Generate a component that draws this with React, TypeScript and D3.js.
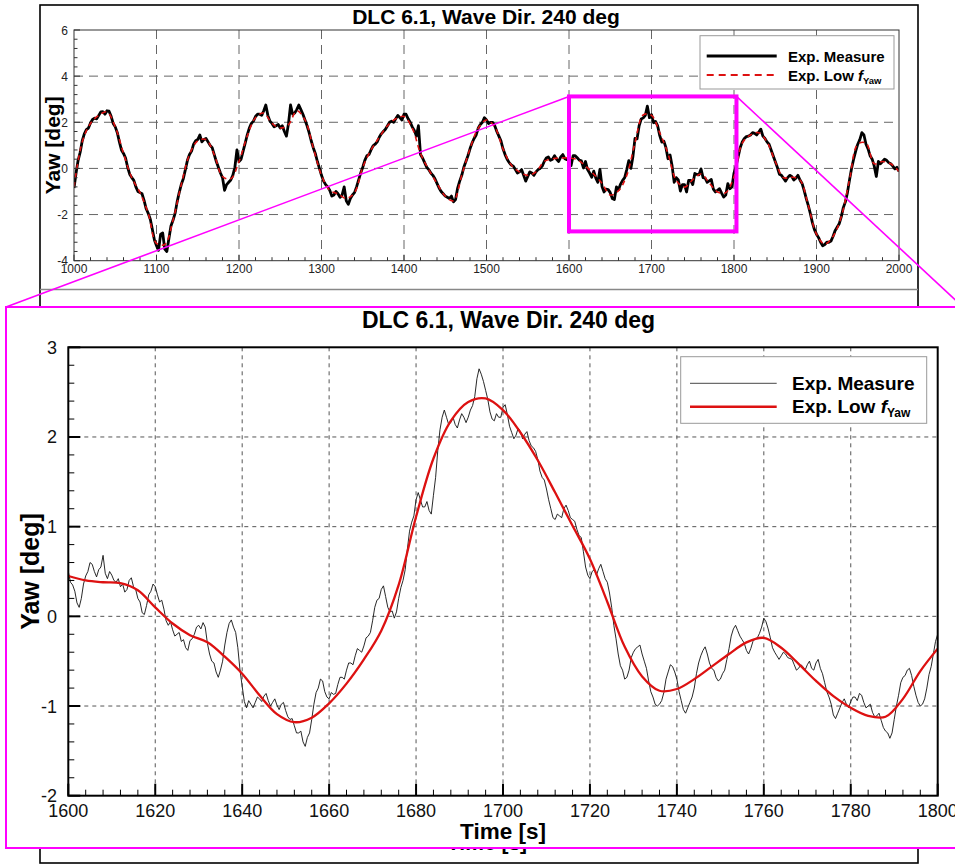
import React from 'react';
import * as d3 from 'd3';

const TITLE = 'DLC 6.1, Wave Dir. 240 deg';
const X_LABEL = 'Time [s]';
const Y_LABEL = 'Yaw [deg]';
const LEGEND_MEASURE = 'Exp. Measure';
const LEGEND_LOW = 'Exp. Low ';

// Top panel: measure every 5 s from 1000 s
const topMeasureStart = 1000;
const topMeasureStep = 5;
const topMeasure = [
  -0.85, 0.35, 1.20, 1.68, 1.97, 2.18, 2.30, 2.46, 2.50, 2.26,
  1.80, 1.15, 0.65, 0.05, -0.40, -0.80, -1.05, -1.40, -1.95, -2.65,
  -3.35, -2.85, -3.50, -3.05, -2.25, -1.45, -0.70, -0.05, 0.60, 1.05,
  1.25, 1.15, 1.30, 1.00, 0.60, 0.05, -0.40, -0.70, -0.50, 0.05,
  0.30, 0.75, 1.45, 1.95, 2.25, 2.35, 2.50, 2.30, 1.95, 1.85,
  1.75, 1.60, 1.95, 2.35, 2.55, 2.55, 2.10, 1.55, 0.90, 0.30,
  -0.30, -0.70, -0.95, -1.15, -1.10, -1.15, -1.40, -1.30, -1.05, -0.50,
  0.05, 0.55, 0.80, 1.05, 1.35, 1.60, 1.85, 2.05, 2.15, 2.20,
  2.35, 2.15, 1.80, 1.40, 0.60, 0.25, -0.05, -0.30, -0.65, -1.00,
  -1.20, -1.30, -1.45, -0.85, -0.30, 0.30, 0.85, 1.30, 1.75, 2.00,
  2.10, 2.00, 1.85, 1.40, 0.85, 0.40, 0.15, -0.05, -0.15, -0.30,
  -0.35, -0.20, -0.15, 0.00, 0.30, 0.50, 0.40, 0.40, 0.50, 0.42,
  0.50, 0.55, 0.46, 0.33, 0.30, -0.20, -0.12, -0.60, -0.78, -0.90,
  -1.05, -1.35, -0.92, -0.52, -0.05, 0.00, 1.30, 1.85, 2.19, 2.70,
  2.33, 2.03, 1.42, 1.18, 0.42, 0.10, -0.40, -0.98, -0.70, -0.52,
  -0.70, -0.26, -0.02, -0.42, -0.54, -0.90, -0.95, -1.07, -1.15, -0.88,
  -0.20, 0.50, 1.15, 1.38, 1.45, 1.52, 1.58, 1.40, 1.15, 0.80,
  0.30, -0.25, -0.42, -0.40, -0.35, -0.42, -0.50, -0.95, -1.60, -2.35,
  -2.85, -3.20, -3.30, -3.20, -2.95, -2.55, -2.10, -1.45, -0.50, 0.40,
  1.05, 1.55, 1.05, 0.55, 0.10, 0.30, 0.30, 0.35, 0.20, -0.02,
  -0.13,
];
// Top panel: measure at the mid points (1002.5 s, 1007.5 s, ...)
const topMeasureMid = [
  -0.20, 0.70, 1.50, 1.75, 2.12, 2.15, 2.45, 2.35, 2.48, 1.95,
  1.55, 0.80, 0.45, -0.25, -0.52, -1.00, -1.10, -1.75, -2.20, -3.10,
  -3.55, -2.80, -3.60, -2.50, -1.95, -1.05, -0.45, 0.35, 0.75, 1.20,
  1.45, 1.25, 1.15, 0.90, 0.30, -0.20, -0.95, -0.60, -0.30, 0.80,
  0.40, 1.10, 1.75, 2.05, 2.35, 2.30, 2.75, 2.05, 1.80, 1.90,
  1.85, 1.40, 2.75, 2.40, 2.75, 2.35, 1.85, 1.20, 0.65, 0.00,
  -0.55, -0.80, -1.20, -1.00, -1.25, -0.80, -1.55, -1.15, -0.80, -0.20,
  0.35, 0.60, 0.98, 1.15, 1.50, 1.70, 2.00, 2.00, 2.30, 2.10,
  2.35, 2.00, 1.65, 1.85, 0.45, 0.05, -0.20, -0.45, -0.85, -1.10,
  -1.25, -1.20, -1.35, -0.55, 0.05, 0.55, 1.10, 1.45, 1.90, 2.20,
  1.95, 2.00, 1.60, 1.20, 0.60, 0.25, 0.10, -0.20, -0.05, -0.55,
  -0.15, -0.30, -0.05, 0.10, 0.45, 0.35, 0.55, 0.30, 0.60, 0.38,
  0.12, 0.55, 0.36, 0.02, -0.05, -0.38, -0.42, -0.04, -1.02, -0.92,
  -1.30, -0.80, -0.68, -0.40, 0.34, 0.52, 1.28, 2.14, 2.30, 2.20,
  1.98, 1.84, 1.14, 0.90, 0.58, -0.60, -0.50, -0.70, -1.02, -0.52,
  -0.22, -0.28, -0.40, -0.60, -0.48, -1.02, -0.88, -1.24, -0.66, -0.80,
  0.10, 0.90, 1.30, 1.40, 1.55, 1.45, 1.70, 1.30, 1.05, 0.55,
  0.05, -0.30, -0.55, -0.30, -0.50, -0.30, -0.65, -1.30, -1.95, -2.65,
  -3.00, -3.35, -3.20, -3.15, -2.70, -2.40, -1.70, -1.05, 0.00, 0.75,
  1.25, 1.45, 0.85, 0.40, -0.35, 0.20, 0.40, 0.25, 0.10, 0.05,
];

// Top panel: low-frequency yaw every 10 s from 1000 s
const topLowStart = 1000;
const topLowStep = 10;
const topLow = [
  -0.80, 1.15, 1.95, 2.30, 2.45, 1.80, 0.65, -0.40, -1.05, -1.95,
  -3.25, -3.30, -2.25, -0.70, 0.60, 1.20, 1.25, 0.60, -0.35, -0.45,
  0.30, 1.40, 2.20, 2.40, 1.95, 1.75, 1.90, 2.50, 2.10, 0.90,
  -0.30, -0.95, -1.10, -1.30, -1.05, 0.05, 0.80, 1.35, 1.85, 2.15,
  2.25, 1.75, 0.65, -0.05, -0.65, -1.20, -1.40, -0.30, 0.85, 1.75,
  2.10, 1.80, 0.85, 0.15, -0.15, -0.30, -0.15, 0.30, 0.42, 0.45,
  0.45, 0.38, 0.10, -0.25, -0.64, -1.15, -0.97, -0.30, 1.11, 2.32,
  2.30, 1.55, 0.64, -0.52, -0.81, -0.49, -0.24, -0.63, -1.02, -1.05,
  -0.36, 1.10, 1.45, 1.55, 1.15, 0.30, -0.40, -0.38, -0.50, -1.60,
  -2.85, -3.28, -2.95, -2.10, -0.50, 1.05, 1.10, 0.20, 0.30, 0.20,
  -0.13,
];

// Zoomed panel: measure every 1 s from 1600 s
const zoomMeasureStart = 1600;
const zoomMeasureStep = 1;
const zoomMeasure = [
  0.50, 0.35, 0.15, 0.20, 0.45, 0.60, 0.50, 0.52, 0.68, 0.42,
  0.46, 0.38, 0.33, 0.27, 0.40, 0.33, 0.20, 0.04, 0.12, 0.28,
  0.33, 0.16, 0.08, -0.10, -0.15, -0.20, -0.28, -0.35, -0.27, -0.20,
  -0.10, -0.07, -0.30, -0.50, -0.62, -0.60, -0.32, -0.08, -0.12, -0.35,
  -0.78, -1.02, -0.98, -0.96, -0.92, -0.89, -0.94, -0.96, -0.99, -0.98,
  -1.05, -1.15, -1.22, -1.30, -1.40, -1.35, -1.15, -0.85, -0.70, -0.84,
  -0.92, -0.87, -0.76, -0.68, -0.60, -0.52, -0.44, -0.38, -0.33, -0.22,
  -0.05, 0.18, 0.30, 0.22, 0.05, -0.02, 0.20, 0.40, 0.75, 1.05,
  1.30, 1.30, 1.22, 1.18, 1.35, 1.85, 2.22, 2.22, 2.16, 2.14,
  2.19, 2.22, 2.22, 2.35, 2.65, 2.70, 2.52, 2.28, 2.18, 2.22,
  2.33, 2.25, 2.05, 2.02, 2.06, 2.03, 1.96, 1.88, 1.75, 1.55,
  1.42, 1.20, 1.08, 1.12, 1.20, 1.18, 1.08, 0.97, 0.88, 0.55,
  0.42, 0.52, 0.53, 0.50, 0.38, 0.10, -0.25, -0.55, -0.70, -0.60,
  -0.40, -0.34, -0.42, -0.58, -0.84, -0.98, -0.98, -0.85, -0.62, -0.56,
  -0.70, -0.94, -1.08, -0.96, -0.80, -0.52, -0.38, -0.42, -0.58, -0.68,
  -0.70, -0.60, -0.36, -0.14, -0.16, -0.26, -0.38, -0.36, -0.25, -0.19,
  -0.02, -0.14, -0.35, -0.44, -0.44, -0.42, -0.47, -0.54, -0.58, -0.56,
  -0.54, -0.58, -0.52, -0.58, -0.74, -0.90, -1.10, -1.08, -0.96, -0.98,
  -0.95, -0.90, -0.86, -0.96, -1.00, -1.07, -1.11, -1.16, -1.28, -1.36,
  -1.15, -0.88, -0.68, -0.60, -0.66, -0.88, -1.00, -0.92, -0.65, -0.42,
  -0.20,
];
// Zoomed panel: measure at the half seconds (1600.5 s, 1601.5 s, ...)
const zoomMeasureMid = [
  0.38, 0.28, 0.10, 0.36, 0.50, 0.58, 0.44, 0.55, 0.48, 0.50,
  0.40, 0.42, 0.36, 0.30, 0.43, 0.30, 0.16, 0.02, 0.24, 0.36,
  0.24, 0.18, -0.05, -0.06, -0.22, -0.18, -0.26, -0.38, -0.25, -0.12,
  -0.14, -0.12, -0.42, -0.52, -0.68, -0.50, -0.18, -0.04, -0.18, -0.60,
  -0.95, -0.94, -1.02, -0.90, -0.95, -0.86, -1.00, -0.92, -1.04, -0.96,
  -1.12, -1.14, -1.30, -1.28, -1.45, -1.30, -0.98, -0.80, -0.72, -0.90,
  -0.85, -0.86, -0.68, -0.70, -0.52, -0.54, -0.36, -0.40, -0.24, -0.18,
  0.10, 0.20, 0.34, 0.10, 0.06, 0.05, 0.32, 0.52, 0.95, 1.12,
  1.38, 1.22, 1.28, 1.14, 1.55, 2.08, 2.30, 2.14, 2.22, 2.10,
  2.26, 2.16, 2.30, 2.45, 2.76, 2.62, 2.42, 2.20, 2.26, 2.22,
  2.36, 2.12, 1.98, 2.10, 1.98, 2.06, 1.90, 1.84, 1.62, 1.52,
  1.30, 1.10, 1.14, 1.10, 1.24, 1.10, 1.06, 0.90, 0.72, 0.46,
  0.50, 0.46, 0.58, 0.42, 0.26, -0.10, -0.42, -0.60, -0.68, -0.46,
  -0.36, -0.32, -0.50, -0.72, -0.90, -1.00, -0.94, -0.70, -0.54, -0.62,
  -0.84, -1.04, -1.02, -0.90, -0.64, -0.44, -0.34, -0.52, -0.60, -0.72,
  -0.64, -0.48, -0.22, -0.10, -0.22, -0.30, -0.42, -0.28, -0.24, -0.12,
  -0.06, -0.24, -0.40, -0.48, -0.40, -0.46, -0.48, -0.60, -0.54, -0.60,
  -0.50, -0.60, -0.48, -0.64, -0.84, -0.98, -1.14, -1.02, -0.92, -1.02,
  -0.90, -0.94, -0.88, -1.02, -0.98, -1.12, -1.08, -1.24, -1.30, -1.30,
  -1.00, -0.74, -0.66, -0.58, -0.78, -0.96, -0.98, -0.80, -0.56, -0.28,
];

// Zoomed panel: low-frequency yaw every 4 s from 1600 s
const zoomLowStart = 1600;
const zoomLowStep = 4;
const zoomLow = [
  0.45, 0.40, 0.38, 0.37, 0.29, 0.10, -0.08, -0.21, -0.29, -0.45,
  -0.64, -0.88, -1.09, -1.18, -1.13, -0.97, -0.75, -0.48, -0.16, 0.35,
  1.11, 1.76, 2.18, 2.39, 2.43, 2.30, 2.05, 1.74, 1.38, 1.01,
  0.64, 0.16, -0.34, -0.67, -0.83, -0.81, -0.70, -0.56, -0.42, -0.29,
  -0.24, -0.35, -0.53, -0.72, -0.89, -1.02, -1.11, -1.12, -0.92, -0.61,
  -0.36,
];

const topXTicks = [1000, 1100, 1200, 1300, 1400, 1500, 1600, 1700, 1800, 1900, 2000];
const topYTicks = [-4, -2, 0, 2, 4, 6];
const zoomXTicks = [1600, 1620, 1640, 1660, 1680, 1700, 1720, 1740, 1760, 1780, 1800];
const zoomYTicks = [-2, -1, 0, 1, 2, 3];
const zoomWindowX = [1600, 1803];
const zoomWindowY = [-2.73, 3.12];

const FONT = '"Liberation Sans", Arial, Helvetica, sans-serif';
const RED = '#dd1111';
const MAGENTA = '#ff00ff';

const toPts = (arr: number[], start: number, step: number) =>
  arr.map((v, i) => [start + i * step, v] as [number, number]);

const withMid = (full: number[], mid: number[], start: number, step: number) => {
  const pts: [number, number][] = [];
  full.forEach((v, i) => {
    pts.push([start + i * step, v]);
    if (i < mid.length) pts.push([start + (i + 0.5) * step, mid[i]]);
  });
  return pts;
};

export default function App() {
  const tx = d3.scaleLinear().domain([1000, 2000]).range([74, 899]);
  const ty = d3.scaleLinear().domain([-4, 6]).range([260.7, 30]);
  const zx = d3.scaleLinear().domain([1600, 1800]).range([68.3, 937.7]);
  const zy = d3.scaleLinear().domain([-2, 3]).range([795.7, 347.3]);

  const tLine = d3.line<[number, number]>().x((d) => tx(d[0])).y((d) => ty(d[1]));
  const tLowLine = d3
    .line<[number, number]>()
    .x((d) => tx(d[0]))
    .y((d) => ty(d[1]))
    .curve(d3.curveCatmullRom);
  const zLine = d3.line<[number, number]>().x((d) => zx(d[0])).y((d) => zy(d[1]));
  const zLowLine = d3
    .line<[number, number]>()
    .x((d) => zx(d[0]))
    .y((d) => zy(d[1]))
    .curve(d3.curveCatmullRom);

  const topMinorX = d3.range(1000, 2000.01, 20);
  const topMinorY = d3.range(-4, 6.01, 0.4);
  const zoomMinorX = d3.range(1600, 1800.01, 4);
  const zoomMinorY = d3.range(-2, 3.001, 0.2);

  const [tx0, tx1] = tx.range();
  const [ty0, ty1] = ty.range();
  const [zx0, zx1] = zx.range();
  const [zy0, zy1] = zy.range();

  const boxL = tx(zoomWindowX[0]);
  const boxR = tx(zoomWindowX[1]);
  const boxT = ty(zoomWindowY[1]);
  const boxB = ty(zoomWindowY[0]);

  const insetL = 6;
  const insetT = 307;
  const insetR = 963;
  const insetB = 848;

  return (
    <svg
      width={955}
      height={864}
      style={{ position: 'absolute', left: 0, top: 0, background: '#fff' }}
      fontFamily={FONT}
    >
      <defs>
        <clipPath id="topClip">
          <rect x={tx0} y={ty1} width={tx1 - tx0} height={ty0 - ty1} />
        </clipPath>
        <clipPath id="zoomClip">
          <rect x={zx0} y={zy1} width={zx1 - zx0} height={zy0 - zy1} />
        </clipPath>
      </defs>
      <rect width={955} height={864} fill="#fff" />

      {/* ===== Top figure ===== */}
      <rect x={40} y={5} width={878} height={858} fill="none" stroke="#000" strokeWidth={1.6} />
      <text x={486} y={24} textAnchor="middle" fontWeight="bold" fontSize={21}>
        {TITLE}
      </text>

      {topXTicks.slice(1, -1).map((t) => (
        <line key={'tgx' + t} x1={tx(t)} x2={tx(t)} y1={ty1} y2={ty0} stroke="#666" strokeWidth={1} strokeDasharray="9,6" />
      ))}
      {topYTicks.slice(1, -1).map((v) => (
        <line key={'tgy' + v} x1={tx0} x2={tx1} y1={ty(v)} y2={ty(v)} stroke="#666" strokeWidth={1} strokeDasharray="9,6" />
      ))}

      <g clipPath="url(#topClip)">
        <path
          d={tLine(withMid(topMeasure, topMeasureMid, topMeasureStart, topMeasureStep)) || ''}
          fill="none"
          stroke="#000"
          strokeWidth={2.8}
          strokeLinejoin="round"
        />
        <path
          d={tLowLine(toPts(topLow, topLowStart, topLowStep)) || ''}
          fill="none"
          stroke={RED}
          strokeWidth={1.6}
          strokeDasharray="5,4"
        />
      </g>

      <rect x={tx0} y={ty1} width={tx1 - tx0} height={ty0 - ty1} fill="none" stroke="#333" strokeWidth={1} />
      {topMinorX.map((t) => (
        <line key={'tmx' + t} x1={tx(t)} x2={tx(t)} y1={ty0} y2={ty0 - (t % 100 === 0 ? 6 : 3.5)} stroke="#333" strokeWidth={1} />
      ))}
      {topMinorY.map((v) => (
        <line
          key={'tmy' + v}
          x1={tx0}
          x2={tx0 + (Math.abs(v / 2 - Math.round(v / 2)) < 1e-6 ? 6 : 3.5)}
          y1={ty(v)}
          y2={ty(v)}
          stroke="#333"
          strokeWidth={1}
        />
      ))}
      {topXTicks.map((t) => (
        <text key={'txl' + t} x={tx(t)} y={273} textAnchor="middle" fontSize={12} fill="#222">
          {t}
        </text>
      ))}
      {topYTicks.map((v) => (
        <text key={'tyl' + v} x={68} y={ty(v) + 4.5} textAnchor="end" fontSize={12} fill="#222">
          {v}
        </text>
      ))}
      <text
        transform={`translate(60,${(ty0 + ty1) / 2}) rotate(-90)`}
        textAnchor="middle"
        fontWeight="bold"
        fontSize={21}
      >
        {Y_LABEL}
      </text>

      <rect x={700} y={35.7} width={194} height={53.3} fill="#fff" stroke="#999" strokeWidth={1} />
      <line x1={706.7} x2={776.7} y1={56} y2={56} stroke="#000" strokeWidth={3} />
      <line x1={706.7} x2={776.7} y1={75} y2={75} stroke={RED} strokeWidth={2} strokeDasharray="7,5" />
      <text x={788} y={61.5} fontWeight="bold" fontSize={15}>
        {LEGEND_MEASURE}
      </text>
      <text x={788} y={80.5} fontWeight="bold" fontSize={15}>
        {LEGEND_LOW}
        <tspan fontStyle="italic">f</tspan>
        <tspan fontSize={9.5} dy={3}>Yaw</tspan>
      </text>

      <line x1={40} x2={918} y1={289.5} y2={289.5} stroke="#888" strokeWidth={1.5} />
      <text x={487} y={849.5} textAnchor="middle" fontWeight="bold" fontSize={21}>
        {X_LABEL}
      </text>

      <rect x={boxL} y={boxT} width={boxR - boxL} height={boxB - boxT} fill="none" stroke={MAGENTA} strokeWidth={4} />
      <line x1={boxL} y1={boxT} x2={insetL} y2={insetT} stroke={MAGENTA} strokeWidth={1.6} />
      <line x1={boxR} y1={boxT} x2={insetR} y2={insetT} stroke={MAGENTA} strokeWidth={1.6} />

      {/* ===== Inset ===== */}
      <rect x={insetL} y={insetT} width={insetR - insetL} height={insetB - insetT} fill="#fff" stroke={MAGENTA} strokeWidth={2} />
      <text x={508.5} y={328.3} textAnchor="middle" fontWeight="bold" fontSize={23}>
        {TITLE}
      </text>

      {zoomXTicks.slice(1, -1).map((t) => (
        <line key={'zgx' + t} x1={zx(t)} x2={zx(t)} y1={zy1} y2={zy0} stroke="#555" strokeWidth={1} strokeDasharray="4,4" />
      ))}
      {zoomYTicks.slice(1, -1).map((v) => (
        <line key={'zgy' + v} x1={zx0} x2={zx1} y1={zy(v)} y2={zy(v)} stroke="#555" strokeWidth={1} strokeDasharray="4,4" />
      ))}

      <g clipPath="url(#zoomClip)">
        <path
          d={zLine(withMid(zoomMeasure, zoomMeasureMid, zoomMeasureStart, zoomMeasureStep)) || ''}
          fill="none"
          stroke="#111"
          strokeWidth={0.9}
        />
        <path
          d={zLowLine(toPts(zoomLow, zoomLowStart, zoomLowStep)) || ''}
          fill="none"
          stroke={RED}
          strokeWidth={2.3}
        />
      </g>

      <rect x={zx0} y={zy1} width={zx1 - zx0} height={zy0 - zy1} fill="none" stroke="#000" strokeWidth={2} />
      {zoomMinorX.map((t) => (
        <line
          key={'zmx' + t}
          x1={zx(t)}
          x2={zx(t)}
          y1={zy0}
          y2={zy0 - (t % 20 === 0 ? 12 : 6)}
          stroke="#000"
          strokeWidth={t % 20 === 0 ? 2 : 1}
        />
      ))}
      {zoomMinorY.map((v) => {
        const major = Math.abs(v - Math.round(v)) < 1e-6;
        return (
          <line
            key={'zmy' + v}
            x1={zx0}
            x2={zx0 + (major ? 12 : 6)}
            y1={zy(v)}
            y2={zy(v)}
            stroke="#000"
            strokeWidth={major ? 2 : 1}
          />
        );
      })}
      {zoomXTicks.map((t) => (
        <text key={'zxl' + t} x={zx(t)} y={817} textAnchor="middle" fontSize={18} fill="#111">
          {t}
        </text>
      ))}
      {zoomYTicks.map((v) => (
        <text key={'zyl' + v} x={57} y={zy(v) + 6.5} textAnchor="end" fontSize={18} fill="#111">
          {v}
        </text>
      ))}
      <text x={(zx0 + zx1) / 2} y={839} textAnchor="middle" fontWeight="bold" fontSize={22.5}>
        {X_LABEL}
      </text>
      <text
        transform={`translate(39,${(zy0 + zy1) / 2}) rotate(-90)`}
        textAnchor="middle"
        fontWeight="bold"
        fontSize={25}
      >
        {Y_LABEL}
      </text>

      <rect x={680.7} y={356.7} width={246} height={66.6} fill="#fff" stroke="#999" strokeWidth={1} />
      <line x1={690} x2={776.7} y1={383.3} y2={383.3} stroke="#333" strokeWidth={0.9} />
      <line x1={690} x2={776.7} y1={406.7} y2={406.7} stroke={RED} strokeWidth={2.5} />
      <text x={792} y={389.5} fontWeight="bold" fontSize={19}>
        {LEGEND_MEASURE}
      </text>
      <text x={792} y={413} fontWeight="bold" fontSize={19}>
        {LEGEND_LOW}
        <tspan fontStyle="italic">f</tspan>
        <tspan fontSize={12} dy={4}>Yaw</tspan>
      </text>
    </svg>
  );
}
